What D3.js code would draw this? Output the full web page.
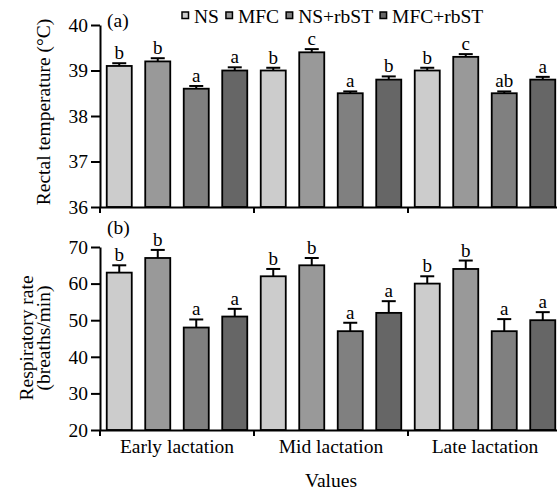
<!DOCTYPE html>
<html>
<head>
<meta charset="utf-8">
<script src="https://cdn.jsdelivr.net/npm/d3@7"></script>
<style>
  html, body { margin: 0; padding: 0; background: #fff; }
  svg { display: block; }
  text { font-family: "Liberation Serif", "Times New Roman", serif; fill: #000; }
</style>
</head>
<body>
<svg id="chart" width="557" height="492"></svg>
<script>
// ---- data ----
const stages = ["Early lactation", "Mid lactation", "Late lactation"];
const treatments = ["NS", "MFC", "NS+rbST", "MFC+rbST"];
const colors = ["#cccccc", "#999999", "#808080", "#666666"];

// Rectal temperature (°C), per stage, per treatment
const rtMean = [[39.1, 39.2, 38.6, 39.0], [39.0, 39.4, 38.5, 38.8], [39.0, 39.3, 38.5, 38.8]];
const rtErr  = [[0.06, 0.07, 0.06, 0.07], [0.06, 0.07, 0.04, 0.07], [0.06, 0.06, 0.04, 0.06]];
const rtSig  = [["b", "b", "a", "a"], ["b", "c", "a", "b"], ["b", "c", "ab", "a"]];

// Respiratory rate (breaths/min)
const rrMean = [[63, 67, 48, 51], [62, 65, 47, 52], [60, 64, 47, 50]];
const rrErr  = [[2, 2.2, 2.2, 2.1], [2, 2, 2.3, 3.2], [2, 2.3, 3.3, 2.2]];
const rrSig  = [["b", "b", "a", "a"], ["b", "b", "a", "a"], ["b", "b", "a", "a"]];

const rtTicks = [36, 37, 38, 39, 40];
const rrTicks = [20, 30, 40, 50, 60, 70];

// ---- layout ----
const FS = 19.5;
const svg = d3.select("#chart");
const x0 = 100, x1 = 562;

const keys = [];
stages.forEach((s, i) => treatments.forEach((t, j) => keys.push(i + "|" + j)));
const x = d3.scaleBand().domain(keys).range([x0, x1]).paddingInner(0.35).paddingOuter(0.175);
const xGroup = d3.scaleBand().domain(stages).range([x0, x1]);

function panel(opts) {
  const { y, ticks, mean, err, sig, label, labelY } = opts;
  const g = svg.append("g");
  const yBase = y.range()[0];

  const data = [];
  stages.forEach((s, i) => treatments.forEach((t, j) => data.push({
    key: i + "|" + j, v: mean[i][j], e: err[i][j], s: sig[i][j], c: colors[j]
  })));

  g.selectAll("rect.bar").data(data).join("rect")
    .attr("class", "bar")
    .attr("x", d => x(d.key))
    .attr("width", x.bandwidth())
    .attr("y", d => y(d.v))
    .attr("height", d => yBase - y(d.v))
    .attr("fill", d => d.c)
    .attr("stroke", "#000")
    .attr("stroke-width", 1.8);

  const cx = d => x(d.key) + x.bandwidth() / 2;
  g.selectAll("line.eb").data(data).join("line")
    .attr("class", "eb")
    .attr("x1", cx).attr("x2", cx)
    .attr("y1", d => y(d.v)).attr("y2", d => y(d.v + d.e))
    .attr("stroke", "#000").attr("stroke-width", 2);
  g.selectAll("line.cap").data(data).join("line")
    .attr("class", "cap")
    .attr("x1", d => cx(d) - 7).attr("x2", d => cx(d) + 7)
    .attr("y1", d => y(d.v + d.e)).attr("y2", d => y(d.v + d.e))
    .attr("stroke", "#000").attr("stroke-width", 2);

  g.selectAll("text.sig").data(data).join("text")
    .attr("class", "sig")
    .attr("x", cx)
    .attr("y", d => y(d.v + d.e) - 4)
    .attr("text-anchor", "middle")
    .attr("font-size", 19)
    .text(d => d.s);

  const ya = g.append("g").attr("transform", `translate(${x0},0)`)
    .call(d3.axisLeft(y).tickValues(ticks).tickSize(9).tickPadding(3).tickSizeOuter(0).tickFormat(d3.format("d")));
  ya.selectAll("path.domain").attr("stroke-width", 2);
  ya.selectAll(".tick line").attr("stroke-width", 2);
  ya.selectAll(".tick text").attr("font-size", FS).attr("font-family", "Liberation Serif");

  const xa = g.append("g").attr("transform", `translate(0,${yBase})`)
    .call(d3.axisBottom(xGroup).tickSize(0).tickFormat("").tickSizeOuter(0));
  xa.selectAll("path.domain").attr("stroke-width", 2);
  xa.selectAll(".tick").remove();
  const bounds = [x0].concat(stages.map(s => xGroup(s) + xGroup.bandwidth()));
  xa.selectAll("line.sep").data(bounds).join("line")
    .attr("class", "sep")
    .attr("x1", d => d).attr("x2", d => d)
    .attr("y1", 0).attr("y2", 6)
    .attr("stroke", "#000").attr("stroke-width", 2);

  g.append("text").attr("x", 107).attr("y", labelY).attr("font-size", FS).text(label);
  return g;
}

const yRT = d3.scaleLinear().domain([36, 40]).range([207, 25]);
const yRR = d3.scaleLinear().domain([20, 70]).range([430, 247]);

panel({ y: yRT, ticks: rtTicks, mean: rtMean, err: rtErr, sig: rtSig, label: "(a)", labelY: 27 });
panel({ y: yRR, ticks: rrTicks, mean: rrMean, err: rrErr, sig: rrSig, label: "(b)", labelY: 234 });

svg.append("text")
  .attr("transform", `translate(50,112) rotate(-90)`)
  .attr("text-anchor", "middle").attr("font-size", FS)
  .text("Rectal temperature (°C)");
const t2 = svg.append("text")
  .attr("transform", `translate(33,338) rotate(-90)`)
  .attr("text-anchor", "middle").attr("font-size", FS);
t2.append("tspan").attr("x", 0).attr("dy", 0).text("Respiratory rate");
t2.append("tspan").attr("x", 0).attr("dy", 17).text("(breaths/min)");

svg.selectAll("text.cat").data(stages).join("text")
  .attr("class", "cat")
  .attr("x", d => xGroup(d) + xGroup.bandwidth() / 2)
  .attr("y", 453)
  .attr("text-anchor", "middle").attr("font-size", FS)
  .text(d => d);
svg.append("text").attr("x", (x0 + x1) / 2).attr("y", 487)
  .attr("text-anchor", "middle").attr("font-size", FS).text("Values");

const lg = svg.append("g");
let lx = 182;
treatments.forEach((t, j) => {
  lg.append("rect").attr("x", lx).attr("y", 12).attr("width", 6.5).attr("height", 6.5)
    .attr("fill", colors[j]).attr("stroke", "#000").attr("stroke-width", 1.5);
  const tx = lg.append("text").attr("x", lx + 12).attr("y", 23).attr("font-size", FS).text(t);
  lx = lx + 12 + tx.node().getComputedTextLength() + 7;
});
</script>
</body>
</html>
